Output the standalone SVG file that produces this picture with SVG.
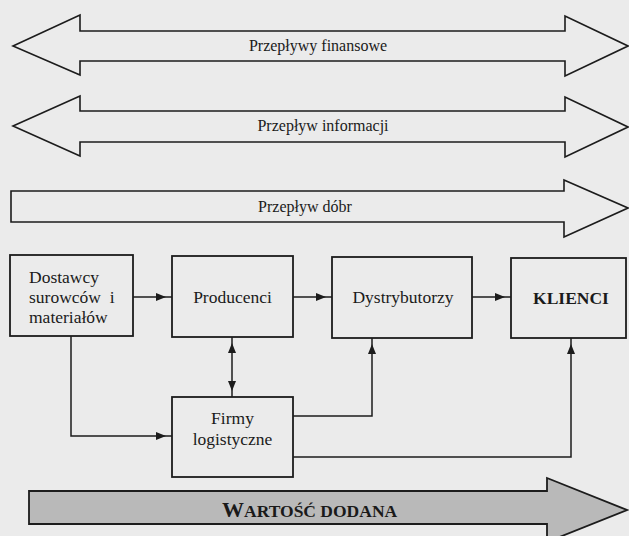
<svg xmlns="http://www.w3.org/2000/svg" width="629" height="536" viewBox="0 0 629 536">
<style>
.flow{fill:none;stroke:#1c1c1c;stroke-width:1.6;stroke-linejoin:miter}
.box{fill:none;stroke:#1c1c1c;stroke-width:1.8}
.t{font-family:"Liberation Serif","Times New Roman",serif;font-size:16px;fill:#1a1a1a}
.bt{font-size:17.5px}
.c{text-anchor:middle}
.b{font-weight:bold}
.con{fill:none;stroke:#1c1c1c;stroke-width:1.5}
</style>
<defs>
<marker id="ah" viewBox="0 0 10 8" refX="16" refY="4" markerWidth="10" markerHeight="8" markerUnits="userSpaceOnUse" orient="auto-start-reverse">
<path d="M0,0 L10,4 L0,8 z" fill="#1c1c1c"/>
</marker>
</defs>
<rect width="629" height="536" fill="#ebebeb"/>

<g id="flow-finansowe">
<polygon class="flow" points="13,46 80,15 80,31 565,31 565,16 628,46 565,76 565,61 80,61 80,75"/>
<text class="t c" x="318" y="51">Przepływy finansowe</text>
</g>
<g id="flow-informacji">
<polygon class="flow" points="13,126 80,96 80,111 565,111 565,97 628,127 565,157 565,142 80,142 80,156"/>
<text class="t c" x="323" y="131">Przepływ informacji</text>
</g>
<g id="flow-dobr">
<polygon class="flow" points="11,191 564,191 564,180 628,208 564,237 564,222 11,222"/>
<text class="t c" x="305" y="212">Przepływ dóbr</text>
</g>

<g id="dostawcy">
<rect class="box" x="10" y="255" width="123" height="81"/>
<text class="t bt" x="29" y="283">Dostawcy</text>
<text class="t bt" x="29" y="303" xml:space="preserve">surowców  i</text>
<text class="t bt" x="29" y="323">materiałów</text>
</g>
<g id="producenci">
<rect class="box" x="172" y="256" width="121" height="81"/>
<text class="t bt c" x="232.5" y="303">Producenci</text>
</g>
<g id="dystrybutorzy">
<rect class="box" x="332" y="257" width="140" height="81"/>
<text class="t bt c" x="403" y="303">Dystrybutorzy</text>
</g>
<g id="klienci">
<rect class="box" x="511" y="258" width="115" height="80"/>
<text class="t bt c b" x="571" y="304">KLIENCI</text>
</g>
<g id="firmy">
<rect class="box" x="172" y="397" width="121" height="80"/>
<text class="t bt c" x="232.5" y="424">Firmy</text>
<text class="t bt c" x="232.5" y="445">logistyczne</text>
</g>

<g id="connectors">
<path class="con" d="M133,297 H172" marker-end="url(#ah)"/>
<path class="con" d="M293,297 H332" marker-end="url(#ah)"/>
<path class="con" d="M472,297 H511" marker-end="url(#ah)"/>
<path class="con" d="M71,336 V436 H172" marker-end="url(#ah)"/>
<path class="con" d="M232,337 V397" marker-start="url(#ah)" marker-end="url(#ah)"/>
<path class="con" d="M293,416 H372 V338" marker-end="url(#ah)"/>
<path class="con" d="M293,457 H571 V338" marker-end="url(#ah)"/>
</g>

<g id="wartosc">
<polygon points="29,491 547,491 547,478 627,510 547,542 547,524 29,524" fill="#b9b9b9" stroke="#1c1c1c" stroke-width="1.8"/>
<text class="t b" x="222" y="517"><tspan font-size="22">W</tspan><tspan font-size="17.5">ARTOŚĆ DODANA</tspan></text>
</g>
</svg>
